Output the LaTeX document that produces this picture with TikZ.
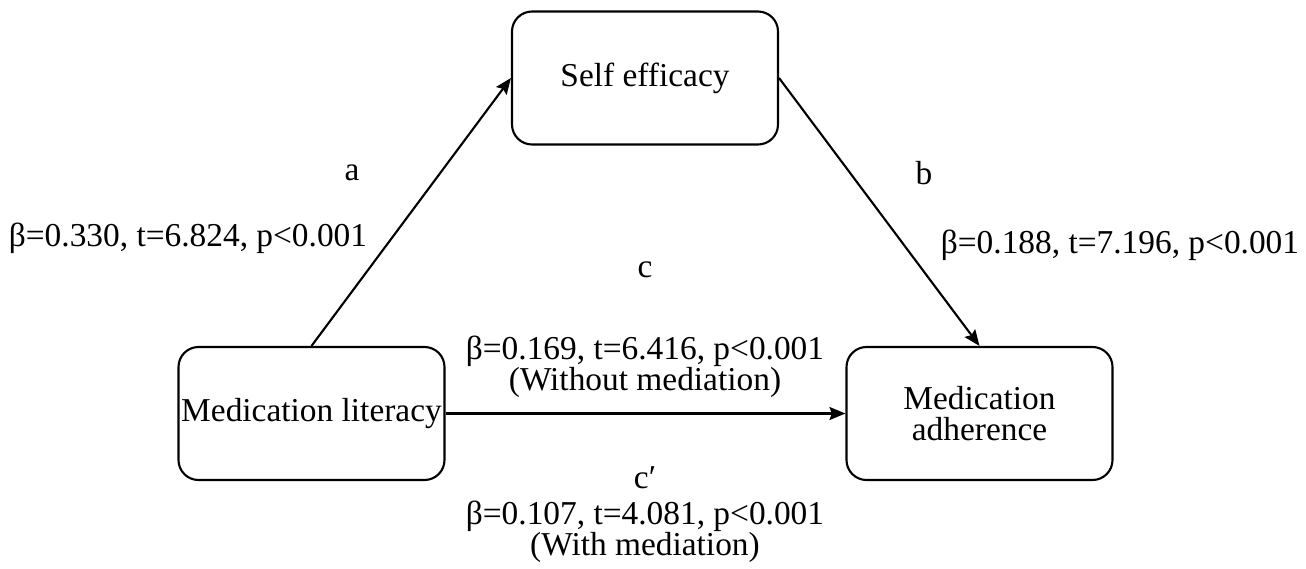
\documentclass[tikz,border=0pt]{standalone}
\usepackage{fontspec}
\setmainfont{Liberation Serif}
\usepackage{tikz}
\usetikzlibrary{arrows.meta}

\begin{document}
\begin{tikzpicture}[auto, >={Stealth[length=3.2mm, width=2.6mm, inset=0.5mm]}, line width=1.2pt,
   every node/.style={font=\fontsize{19}{17.6}\selectfont, inner sep=0.5pt},
   varbox/.style={shape = rectangle, draw, rounded corners=0.4cm, minimum width=5.32cm, minimum height=2.66cm, inner sep=0pt, align=center}]
   \useasboundingbox (0,0) rectangle (26.12,11.36);
   \node(self) at (12.9,9.80) [varbox] {Self efficacy};
   \node(literacy) at (6.23,3.09) [varbox] {Medication literacy};
   \node(adherence) at (19.59,3.09) [varbox] {Medication\\adherence};
   % path labels
   \node(labelA) at (7.04,7.90) {a};
   \node(statA) at (3.76,6.60) {β=0.330, t=6.824, p<0.001};
   \node(labelB) at (18.48,7.90) {b};
   \node(statB) at (22.40,6.46) {β=0.188, t=7.196, p<0.001};
   \node(labelC) at (12.9,5.96) {c};
   \node(statC) at (12.9,4.02) [align=center] {β=0.169, t=6.416, p<0.001\\(Without mediation)};
   \node(labelCp) at (12.9,1.80) {c′};
   \node(statCp) at (12.9,0.72) [align=center] {β=0.107, t=4.081, p<0.001\\(With mediation)};
   \draw [->] (literacy.north) to (self.west) ;
   \draw [->] (self.east) to (adherence.north) ;
   \draw [->] (literacy) to (adherence) ;

\end{tikzpicture}
\end{document}
